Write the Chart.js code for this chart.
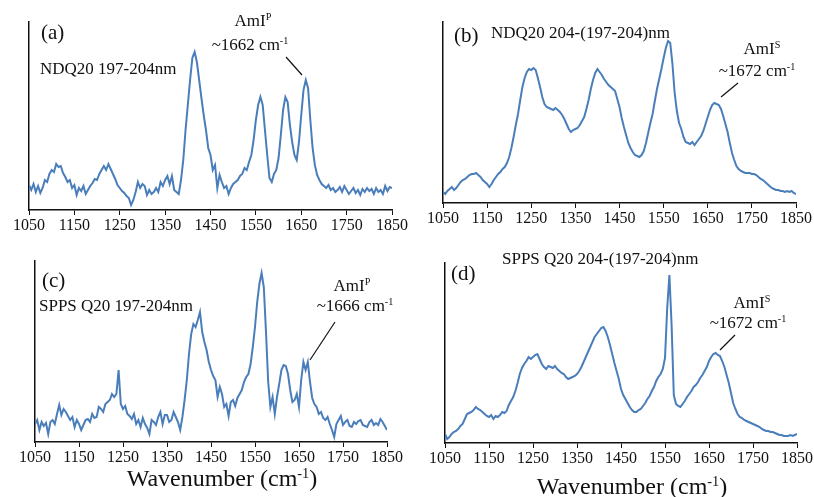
<!DOCTYPE html>
<html>
<head>
<meta charset="utf-8">
<script src="https://cdn.jsdelivr.net/npm/chart.js@4"></script>
<style>
  body { margin: 0; background: #fff; }
  #page { position: relative; width: 814px; height: 497px; overflow: hidden; font-family: "Liberation Serif", "Times New Roman", serif; color: #111; }
  #page canvas { position: absolute; }
  .txt { position: absolute; white-space: nowrap; line-height: 1; font-size: 17px; }
  .txt sup { font-size: 0.6em; vertical-align: 0.55em; line-height: 0; }
  .tag { font-size: 21px; }
  .mid { width: 120px; text-align: center; }
  .xtitle { font-size: 24px; width: 240px; text-align: center; }
  svg { position: absolute; left: 0; top: 0; }
</style>
</head>
<body>
<div id="page">
  <canvas id="chartA"></canvas>
  <canvas id="chartB"></canvas>
  <canvas id="chartC"></canvas>
  <canvas id="chartD"></canvas>

  <div class="txt tag" style="left:41px; top:22px;">(a)</div>
  <div class="txt" style="left:40px; top:60px;">NDQ20 197-204nm</div>
  <div class="txt mid" style="left:193px; top:12px;">AmI<sup>P</sup></div>
  <div class="txt mid" style="left:190px; top:36px;">~1662 cm<sup>-1</sup></div>

  <div class="txt tag" style="left:454px; top:25px;">(b)</div>
  <div class="txt" style="left:491px; top:24px;">NDQ20 204-(197-204)nm</div>
  <div class="txt mid" style="left:702px; top:40px;">AmI<sup>S</sup></div>
  <div class="txt mid" style="left:697px; top:62px;">~1672 cm<sup>-1</sup></div>

  <div class="txt tag" style="left:42px; top:270px;">(c)</div>
  <div class="txt" style="left:39px; top:297px;">SPPS Q20 197-204nm</div>
  <div class="txt mid" style="left:292px; top:277px;">AmI<sup>P</sup></div>
  <div class="txt mid" style="left:295px; top:297px;">~1666 cm<sup>-1</sup></div>

  <div class="txt tag" style="left:451px; top:263px;">(d)</div>
  <div class="txt" style="left:502px; top:250px;">SPPS Q20 204-(197-204)nm</div>
  <div class="txt mid" style="left:692px; top:294px;">AmI<sup>S</sup></div>
  <div class="txt mid" style="left:688px; top:314px;">~1672 cm<sup>-1</sup></div>

  <div class="txt xtitle" style="left:102px; top:466px;">Wavenumber (cm<sup>-1</sup>)</div>
  <div class="txt xtitle" style="left:512px; top:474px;">Wavenumber (cm<sup>-1</sup>)</div>

  <svg width="814" height="497">
    <g stroke="#111" stroke-width="1.2">
      <line x1="286" y1="57" x2="302" y2="75"/>
      <line x1="738" y1="83" x2="721" y2="97"/>
      <line x1="335" y1="322" x2="310" y2="360"/>
      <line x1="735" y1="335" x2="720" y2="350"/>
    </g>
  </svg>
</div>

<script>
const wavenumbers = [
  1050,1055,1060,1065,1070,1075,1080,1085,1090,1095,1100,1105,1110,1115,1120,1125,1130,1135,1140,1145,
  1150,1155,1160,1165,1170,1175,1180,1185,1190,1195,1200,1205,1210,1215,1220,1225,1230,1235,1240,1245,
  1250,1255,1260,1265,1270,1275,1280,1285,1290,1295,1300,1305,1310,1315,1320,1325,1330,1335,1340,1345,
  1350,1355,1360,1365,1370,1375,1380,1385,1390,1395,1400,1405,1410,1415,1420,1425,1430,1435,1440,1445,
  1450,1455,1460,1465,1470,1475,1480,1485,1490,1495,1500,1505,1510,1515,1520,1525,1530,1535,1540,1545,
  1550,1555,1560,1565,1570,1575,1580,1585,1590,1595,1600,1605,1610,1615,1620,1625,1630,1635,1640,1645,
  1650,1655,1660,1665,1670,1675,1680,1685,1690,1695,1700,1705,1710,1715,1720,1725,1730,1735,1740,1745,
  1750,1755,1760,1765,1770,1775,1780,1785,1790,1795,1800,1805,1810,1815,1820,1825,1830,1835,1840,1845,
  1850
];

// (a) NDQ20 197-204nm
const ndqPrimary = [
  25,20,26,18,24,17,22,30,28,36, 40,38,46,43,44,37,33,28,30,22,
  25,15,22,19,24,16,20,24,27,31, 30,36,40,44,40,46,41,36,31,25,
  22,19,17,14,12,5,10,18,28,22, 26,24,15,20,16,18,22,18,28,24,
  30,34,26,34,20,18,16,30,50,80, 105,130,152,158,148,130,112,95,80,62,
  55,40,45,22,35,28,22,24,16,22, 26,28,30,34,36,42,40,48,55,70,
  90,105,113,105,80,55,32,28,36,40, 52,75,100,113,108,85,68,55,50,68,
  95,120,130,122,90,62,45,35,30,26, 24,22,25,20,22,18,20,23,18,24,
  20,16,19,22,17,20,15,21,18,22, 19,21,16,22,18,20,16,24,19,23,
  22
];

// (b) NDQ20 204-(197-204)nm
const ndqSecondary = [
  11,9,12,14,16,13,15,18,21,23, 24,26,28,29,29,30,28,26,23,21,
  19,16,19,23,26,29,31,34,36,40, 46,55,66,78,89,103,116,125,131,134,
  133,135,133,125,116,106,99,96,95,94, 93,95,93,91,88,84,79,74,71,73,
  74,75,78,82,86,94,103,114,123,130, 134,131,128,124,121,118,116,114,112,104,
  96,85,76,68,60,55,51,48,47,46, 48,52,60,70,80,89,102,114,124,134,
  145,155,162,160,139,110,92,80,74,66, 61,60,59,61,58,61,64,67,72,79,
  86,93,98,100,99,98,94,87,79,71, 60,50,43,37,34,32,31,30,30,30,
  29,29,28,26,24,23,21,19,17,15, 14,13,13,12,12,11,12,11,12,10,
  9
];

// (c) SPPS Q20 197-204nm
const sppsPrimary = [
  18,22,12,20,16,19,8,20,22,18, 28,37,27,33,30,26,22,25,15,22,
  18,12,17,22,23,20,28,24,25,35, 33,30,38,40,42,48,45,48,72,38,
  33,36,28,26,23,28,18,22,15,24, 18,14,8,22,20,17,25,30,18,27,
  27,20,22,30,25,20,12,25,42,62, 88,108,118,115,122,130,110,100,92,80,
  72,66,62,45,55,48,35,38,26,40, 42,36,44,48,52,60,65,68,78,95,
  115,140,158,169,155,110,60,35,45,28, 45,58,72,77,76,68,52,40,42,48,
  35,62,80,72,80,60,44,38,35,28, 30,24,22,25,18,12,5,18,22,26,
  17,20,22,16,15,20,18,21,22,17, 16,15,20,22,17,19,17,23,20,16,
  12
];

// (d) SPPS Q20 204-(197-204)nm
const sppsSecondary = [
  9,4,6,9,11,12,14,17,19,24, 29,30,31,33,36,34,33,31,29,27,
  26,28,24,27,26,28,31,30,32,38, 42,46,52,60,69,75,79,82,86,84,
  86,88,89,84,79,76,74,77,76,75, 77,74,72,70,69,66,64,65,66,67,
  69,72,76,81,86,91,96,101,106,109, 112,115,116,112,106,98,89,80,72,64,
  54,48,44,40,36,33,31,31,33,34, 37,40,44,47,52,56,62,66,69,74,
  85,135,168,118,48,39,37,36,39,42, 46,49,52,56,58,61,65,68,72,76,
  82,86,89,90,88,87,82,76,68,60, 50,40,34,29,26,25,23,22,21,20,
  19,18,17,16,14,13,12,12,11,11, 10,9,8,8,7,7,7,8,7,8,
  9
];

const xMin = 1050;
const xMax = 1850;
const xStep = 100;

function drawPanel(id, area, values) {
  const canvas = document.getElementById(id);
  const padX = 22, padTop = 4, axisH = 28;
  canvas.width = area.w + 2 * padX;
  canvas.height = area.h + padTop + axisH;
  canvas.style.left = (area.left - padX) + "px";
  canvas.style.top = (area.top - padTop) + "px";

  new Chart(canvas, {
    type: "line",
    data: {
      datasets: [{
        data: wavenumbers.map((x, i) => ({ x: x, y: values[i] })),
        borderColor: "#4A7EBB",
        borderWidth: 2,
        pointRadius: 0,
        tension: 0
      }]
    },
    options: {
      responsive: false,
      animation: false,
      layout: { padding: { left: padX, right: padX, top: padTop, bottom: 0 } },
      plugins: { legend: { display: false }, tooltip: { enabled: false } },
      scales: {
        x: {
          type: "linear",
          min: xMin,
          max: xMax,
          afterFit: s => { s.height = axisH; },
          ticks: {
            stepSize: xStep,
            autoSkip: false,
            maxRotation: 0,
            padding: 1,
            color: "#111",
            font: { family: "Liberation Serif", size: 16 },
            callback: v => String(v)
          },
          grid: { drawOnChartArea: false, drawTicks: true, tickLength: 5, color: "#111" },
          border: { display: true, color: "#111", width: 1.5 }
        },
        y: {
          min: 0,
          max: area.h,
          afterFit: s => { s.width = 0; },
          ticks: { display: false },
          grid: { display: false },
          border: { display: true, color: "#111", width: 1.5 }
        }
      }
    }
  });
}

drawPanel("chartA", { left: 29, top: 22, w: 363, h: 188 }, ndqPrimary);
drawPanel("chartB", { left: 443, top: 22, w: 353, h: 181 }, ndqSecondary);
drawPanel("chartC", { left: 35, top: 261, w: 352, h: 181 }, sppsPrimary);
drawPanel("chartD", { left: 445, top: 263, w: 352, h: 180 }, sppsSecondary);
</script>
</body>
</html>
